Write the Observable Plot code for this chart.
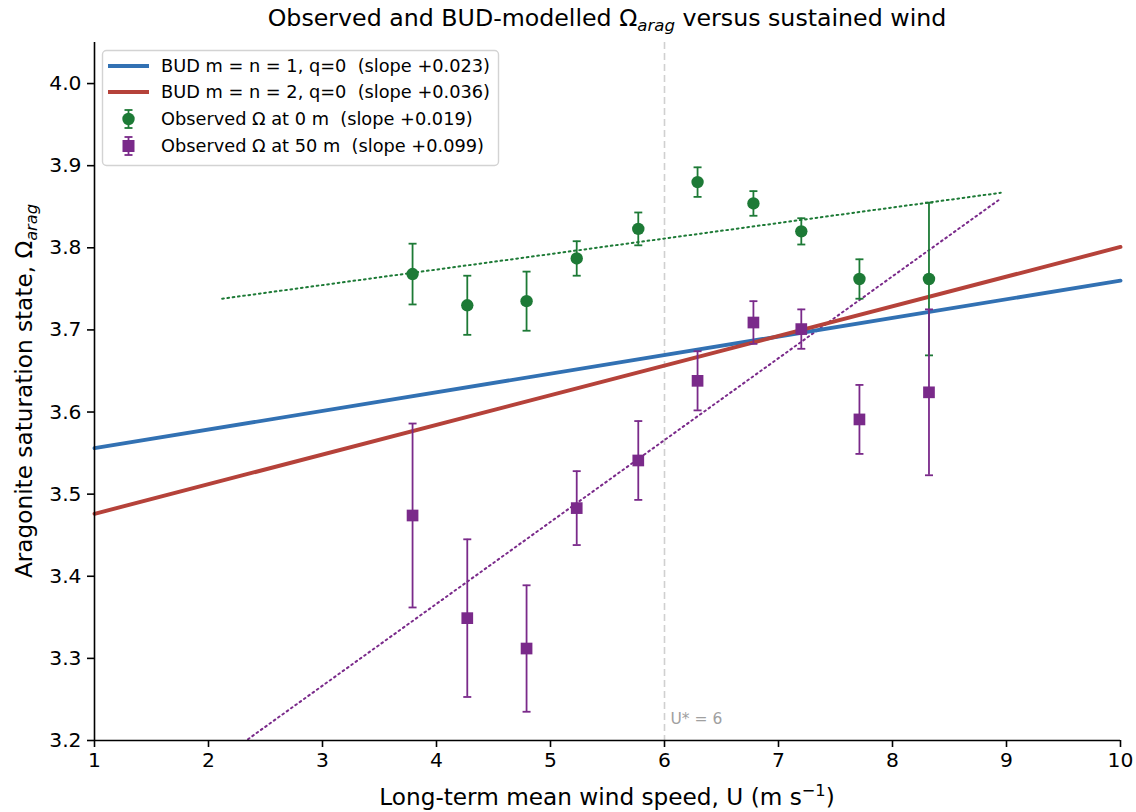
<!DOCTYPE html>
<html>
<head>
<meta charset="utf-8">
<script src="https://cdn.jsdelivr.net/npm/d3@7"></script>
<script src="https://cdn.jsdelivr.net/npm/@observablehq/plot@0.6"></script>
<style>
  html, body { margin: 0; padding: 0; background: #fff; }
  #chart svg { display: block; }
  text { white-space: pre; }
</style>
</head>
<body>
<div id="chart"></div>
<script>
// ---- data ----
const windU = [3.79, 4.27, 4.79, 5.23, 5.77, 6.29, 6.78, 7.20, 7.71, 8.32];
const obs0 = [3.768, 3.730, 3.735, 3.787, 3.823, 3.880, 3.854, 3.820, 3.762, 3.762];
const err0 = [0.037, 0.036, 0.036, 0.021, 0.020, 0.018, 0.015, 0.016, 0.024, 0.093];
const obs50 = [3.474, 3.349, 3.312, 3.483, 3.541, 3.638, 3.709, 3.701, 3.591, 3.624];
const err50 = [0.112, 0.096, 0.077, 0.045, 0.048, 0.036, 0.026, 0.024, 0.042, 0.101];

const modelX = [1, 10];
const bud1 = [3.556, 3.760];
const bud2 = [3.476, 3.801];

const fitX = [2.12, 8.95];
const fit0 = [3.738, 3.867];
const fit50 = [3.179, 3.860];

const uStar = 6;
const xTicks = [1, 2, 3, 4, 5, 6, 7, 8, 9, 10];
const yTicks = [3.2, 3.3, 3.4, 3.5, 3.6, 3.7, 3.8, 3.9, 4.0];

const C_BLUE = "#3271b3", C_RED = "#b5423a", C_GREEN = "#1d7a36", C_PURPLE = "#7a2a8a";

const legendItems = [
  {kind: "line", color: C_BLUE, label: "BUD m = n = 1, q=0  (slope +0.023)"},
  {kind: "line", color: C_RED, label: "BUD m = n = 2, q=0  (slope +0.036)"},
  {kind: "circle", color: C_GREEN, label: "Observed Ω at 0 m  (slope +0.019)"},
  {kind: "square", color: C_PURPLE, label: "Observed Ω at 50 m  (slope +0.099)"}
];

// ---- tables ----
const obsTable0 = windU.map((u, i) => ({u, v: obs0[i], lo: obs0[i] - err0[i], hi: obs0[i] + err0[i]}));
const obsTable50 = windU.map((u, i) => ({u, v: obs50[i], lo: obs50[i] - err50[i], hi: obs50[i] + err50[i]}));
const line = (xs, ys) => xs.map((x, i) => ({x, y: ys[i]}));

const capSymbol = {
  draw(ctx, size) {
    const w = Math.sqrt(size / Math.PI);
    ctx.moveTo(-w, 0);
    ctx.lineTo(w, 0);
  }
};

const W = 1136, H = 812;
const ML = 94, MR = 16, MT = 42, MB = 72;
const TICK_FS = 20.3, LABEL_FS = 23.2, TITLE_FS = 23.7, LEGEND_FS = 17.75;
const EB_W = 1.8, CAP_R = 4;

const chart = Plot.plot({
  width: W,
  height: H,
  marginLeft: ML,
  marginRight: MR,
  marginTop: MT,
  marginBottom: MB,
  style: {fontFamily: "DejaVu Sans", fontSize: TICK_FS + "px", color: "#000", background: "#fff"},
  x: {domain: [1, 10], label: null},
  y: {domain: [3.2, 4.05], label: null},
  marks: [
    Plot.ruleX([uStar], {stroke: "#d0d0d0", strokeWidth: 1.6, strokeDasharray: "7,4"}),
    Plot.text([uStar], {x: d => d, frameAnchor: "bottom", text: d => `U* = ${d}`, textAnchor: "start", dx: 6, dy: -17, fill: "#a0a0a0", fontSize: 15.5}),
    Plot.line(line(fitX, fit0), {x: "x", y: "y", stroke: C_GREEN, strokeWidth: 2, strokeDasharray: "1.7,3.6", clip: true}),
    Plot.line(line(fitX, fit50), {x: "x", y: "y", stroke: C_PURPLE, strokeWidth: 2, strokeDasharray: "1.7,3.6", clip: true}),
    Plot.line(line(modelX, bud1), {x: "x", y: "y", stroke: C_BLUE, strokeWidth: 3.9}),
    Plot.line(line(modelX, bud2), {x: "x", y: "y", stroke: C_RED, strokeWidth: 3.9}),
    // observed 0 m
    Plot.ruleX(obsTable0, {x: "u", y1: "lo", y2: "hi", stroke: C_GREEN, strokeWidth: EB_W}),
    Plot.dot(obsTable0, {x: "u", y: "lo", symbol: capSymbol, r: CAP_R, stroke: C_GREEN, strokeWidth: EB_W, fill: "none"}),
    Plot.dot(obsTable0, {x: "u", y: "hi", symbol: capSymbol, r: CAP_R, stroke: C_GREEN, strokeWidth: EB_W, fill: "none"}),
    Plot.dot(obsTable0, {x: "u", y: "v", r: 6.2, fill: C_GREEN, stroke: "none", symbol: "circle"}),
    // observed 50 m
    Plot.ruleX(obsTable50, {x: "u", y1: "lo", y2: "hi", stroke: C_PURPLE, strokeWidth: EB_W}),
    Plot.dot(obsTable50, {x: "u", y: "lo", symbol: capSymbol, r: CAP_R, stroke: C_PURPLE, strokeWidth: EB_W, fill: "none"}),
    Plot.dot(obsTable50, {x: "u", y: "hi", symbol: capSymbol, r: CAP_R, stroke: C_PURPLE, strokeWidth: EB_W, fill: "none"}),
    Plot.dot(obsTable50, {x: "u", y: "v", r: 6.6, fill: C_PURPLE, stroke: "none", symbol: "square"}),
    // spines
    Plot.ruleX([1], {stroke: "#000", strokeWidth: 1.6}),
    Plot.ruleY([3.2], {stroke: "#000", strokeWidth: 1.6}),
    Plot.axisX({ticks: xTicks, tickFormat: d3.format("d"), tickSize: 7, tickPadding: 5, strokeWidth: 1.6, label: null, fontSize: TICK_FS}),
    Plot.axisY({ticks: yTicks, tickFormat: d3.format(".1f"), tickSize: 7, tickPadding: 6, strokeWidth: 1.6, label: null, fontSize: TICK_FS})
  ]
});

document.getElementById("chart").appendChild(chart);

// ---- titles and legend via d3 ----
const svg = d3.select(chart);
const plotLeft = ML, plotRight = W - MR, plotTop = MT, plotBottom = H - MB;
const cx = (plotLeft + plotRight) / 2;

const title = svg.append("text")
  .attr("x", cx).attr("y", 26)
  .attr("text-anchor", "middle")
  .attr("font-family", "DejaVu Sans").attr("font-size", TITLE_FS).attr("fill", "#000");
title.append("tspan").text("Observed and BUD-modelled Ω");
title.append("tspan").attr("font-size", TITLE_FS * 0.7).attr("font-style", "italic").attr("dy", 5).text("arag");
title.append("tspan").attr("dy", -5).text(" versus sustained wind");

const xl = svg.append("text")
  .attr("x", cx).attr("y", 805)
  .attr("text-anchor", "middle")
  .attr("font-family", "DejaVu Sans").attr("font-size", LABEL_FS).attr("fill", "#000");
xl.append("tspan").text("Long-term mean wind speed, U (m s");
xl.append("tspan").attr("font-size", LABEL_FS * 0.7).attr("dy", -9).text("−1");
xl.append("tspan").attr("dy", 9).text(")");

const yl = svg.append("text")
  .attr("transform", `translate(32,${(plotTop + plotBottom) / 2}) rotate(-90)`)
  .attr("text-anchor", "middle")
  .attr("font-family", "DejaVu Sans").attr("font-size", LABEL_FS).attr("fill", "#000");
yl.append("tspan").text("Aragonite saturation state, Ω");
yl.append("tspan").attr("font-size", LABEL_FS * 0.7).attr("font-style", "italic").attr("dy", 5).text("arag");

// legend
const lg = svg.append("g").attr("font-family", "DejaVu Sans").attr("font-size", LEGEND_FS).attr("text-anchor", "start");
lg.append("rect")
  .attr("x", 102.5).attr("y", 50.5).attr("width", 396).attr("height", 115)
  .attr("rx", 4).attr("fill", "#fff").attr("fill-opacity", 0.85)
  .attr("stroke", "#d3d3d3").attr("stroke-width", 1.4);
const rowY = [66, 92, 119, 146];
legendItems.forEach((it, i) => {
  const y = rowY[i];
  const g = lg.append("g");
  if (it.kind === "line") {
    g.append("line").attr("x1", 108).attr("x2", 149).attr("y1", y).attr("y2", y)
      .attr("stroke", it.color).attr("stroke-width", 3.9);
  } else {
    g.append("line").attr("x1", 128.5).attr("x2", 128.5).attr("y1", y - 9).attr("y2", y + 9)
      .attr("stroke", it.color).attr("stroke-width", EB_W);
    g.append("line").attr("x1", 124.5).attr("x2", 132.5).attr("y1", y - 9).attr("y2", y - 9)
      .attr("stroke", it.color).attr("stroke-width", EB_W);
    g.append("line").attr("x1", 124.5).attr("x2", 132.5).attr("y1", y + 9).attr("y2", y + 9)
      .attr("stroke", it.color).attr("stroke-width", EB_W);
    if (it.kind === "circle") {
      g.append("circle").attr("cx", 128.5).attr("cy", y).attr("r", 6.2).attr("fill", it.color);
    } else {
      g.append("rect").attr("x", 128.5 - 6).attr("y", y - 6).attr("width", 12).attr("height", 12).attr("fill", it.color);
    }
  }
  g.append("text").attr("x", 161).attr("y", y).attr("dy", "0.36em").attr("fill", "#000").text(it.label);
});
</script>
</body>
</html>
